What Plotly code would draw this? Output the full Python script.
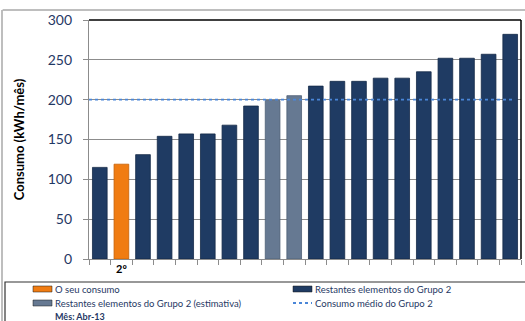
import plotly.graph_objects as go

ranks = list(range(1, 21))
values = [115, 119, 131, 154, 157, 157, 168, 192, 199, 205,
          217, 223, 223, 227, 227, 235, 252, 252, 257, 282]
groups = ["other", "you", "other", "other", "other", "other", "other", "other", "est", "est",
          "other", "other", "other", "other", "other", "other", "other", "other", "other", "other"]
x_labels = ["", "2º"] + [""] * 18
group_mean = 200
month = "Mês: Abr-13"

colors = {"you": "#f07c12", "other": "#1f3b63", "est": "#667992"}
edge = {"you": "#c55f05", "other": "#142a48", "est": "#4e5f75"}

fig = go.Figure()
fig.add_trace(go.Bar(
    x=ranks, y=values, width=0.68,
    marker=dict(color=[colors[g] for g in groups],
                line=dict(color=[edge[g] for g in groups], width=0.8)),
    showlegend=False,
))
fig.add_trace(go.Scatter(
    x=[0.5, 20.1], y=[group_mean, group_mean], mode="lines",
    line=dict(color="#4a86d8", width=1.6, dash="dot"), showlegend=False,
))

font = "Lato, 'Open Sans', sans-serif"
tick_pos = [r for r, l in zip(ranks, x_labels) if l]
tick_txt = [l for l in x_labels if l]

fig.update_layout(
    width=525, height=321,
    margin=dict(l=89, r=4, t=20, b=62),
    paper_bgcolor="white", plot_bgcolor="white",
    font=dict(family=font),
    bargap=0.3,
    xaxis=dict(range=[0.5, 20.5], tickvals=tick_pos, ticktext=tick_txt,
               ticks="", showgrid=False, zeroline=False,
               showline=True, linecolor="#8c8c8c", linewidth=1.2,
               tickfont=dict(size=11, color="#000000", family=font, weight="bold"),
               minor=dict(tickvals=[r + 0.5 for r in [0] + ranks], ticks="outside",
                          ticklen=5, tickcolor="#8c8c8c", showgrid=False)),
    yaxis=dict(range=[0, 300], dtick=50, ticks="outside", ticklen=5, tickcolor="#8c8c8c",
               showgrid=True, gridcolor="#8c8c8c", gridwidth=1, zeroline=False,
               showline=True, linecolor="#8c8c8c", linewidth=1.2,
               ticklabelstandoff=8,
               tickfont=dict(size=14, color="#1f3864", family=font),
               title=dict(text="Consumo (kWh/mês)", standoff=20,
                          font=dict(size=13, color="#000000", family=font, weight="bold"))),
)

shapes = [
    dict(type="line", xref="paper", yref="paper", x0=0, x1=1, y0=1, y1=1,
         line=dict(color="#000000", width=1.5)),
    dict(type="line", xref="paper", yref="paper", x0=1, x1=1, y0=0, y1=1,
         line=dict(color="#000000", width=1.5)),
]
shapes.append(dict(type="line", xref="paper", yref="paper", x0=-0.2, x1=1.05,
                   y0=1 + 10 / 239, y1=1 + 10 / 239, line=dict(color="#a8a8a8", width=1.5)))
fig.update_layout(shapes=shapes)


def px2x(px):
    return (px - 89) / 432


def px2y(py):
    return (259 - py) / 239


fig.add_shape(type="line", xref="paper", yref="paper", x0=px2x(2), x1=px2x(2),
              y0=px2y(321), y1=px2y(10), line=dict(color="#a8a8a8", width=1.5))
fig.add_shape(type="rect", xref="paper", yref="paper", x0=px2x(5), x1=px2x(528),
              y0=px2y(330), y1=px2y(282), line=dict(color="#333333", width=1.2))

legend_items = [
    ("O seu consumo", colors["you"], "bar", 33, 289),
    ("Restantes elementos do Grupo 2 (estimativa)", colors["est"], "bar", 33, 303),
    ("Restantes elementos do Grupo 2", colors["other"], "bar", 293, 289),
    ("Consumo médio do Grupo 2", "#4a86d8", "dot", 293, 303),
]
for text, col, kind, lx, ly in legend_items:
    if kind == "bar":
        fig.add_shape(type="rect", xref="paper", yref="paper", x0=px2x(lx), x1=px2x(lx + 19),
                      y0=px2y(ly + 3), y1=px2y(ly - 3), fillcolor=col,
                      line=dict(color="#1a1a1a", width=0.5))
    else:
        fig.add_shape(type="line", xref="paper", yref="paper", x0=px2x(lx), x1=px2x(lx + 19),
                      y0=px2y(ly), y1=px2y(ly), line=dict(color=col, width=2, dash="dot"))
    fig.add_annotation(xref="paper", yref="paper", x=px2x(lx + 20), y=px2y(ly),
                       text=text, showarrow=False, xanchor="left", yanchor="middle",
                       font=dict(size=9.5, color="#1f3864", family=font))

fig.add_annotation(xref="paper", yref="paper", x=px2x(53), y=px2y(316),
                   text="<b>" + month + "</b>", showarrow=False, xanchor="left",
                   yanchor="middle", font=dict(size=9, color="#1f3864", family=font))

fig.write_html("out.html")
